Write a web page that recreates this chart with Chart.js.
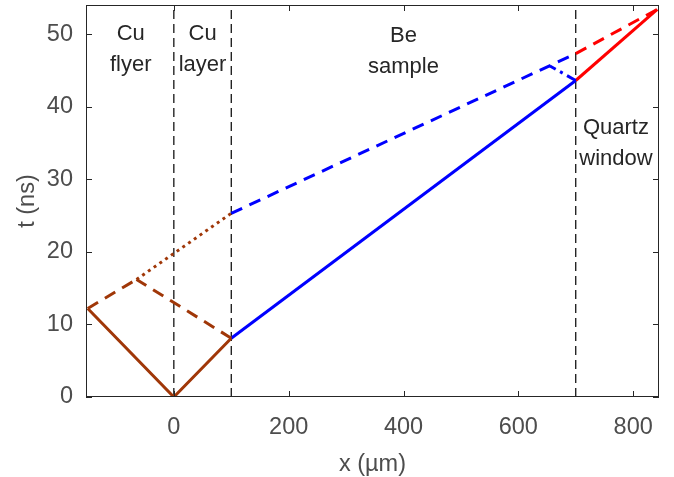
<!DOCTYPE html>
<html>
<head>
<meta charset="utf-8">
<script src="https://cdn.jsdelivr.net/npm/chart.js@4.4.1/dist/chart.umd.min.js"></script>
<style>
  html, body { margin: 0; padding: 0; background: #fff; }
  #wrap { width: 674px; height: 477px; }
</style>
</head>
<body>
<div id="wrap"><canvas id="xt" width="674" height="477"></canvas></div>
<script>
/* ================== DATA ================== */
const xTicks = [0, 200, 400, 600, 800];
const tTicks = [0, 10, 20, 30, 40, 50];
const boundaries = [0, 100, 700];

// Cu flyer / layer waves (x in um, t in ns)
const cuSolidX = [-150, 0, 100];
const cuSolidT = [12.2, 0, 8.1];
const cuDashLeftX = [-150, -65];
const cuDashLeftT = [12.2, 16.2];
const cuDashRightX = [100, -65];
const cuDashRightT = [8.1, 16.2];
const cuDotX = [-65, 100];
const cuDotT = [16.2, 25.3];

// Be sample
const beSolidX = [100, 700];
const beSolidT = [8.1, 43.6];
const beDashX = [100, 700];
const beDashT = [25.3, 47.3];
const beDashDotX = [700, 655];
const beDashDotT = [43.6, 45.6];

// Quartz window
const qzSolidX = [700, 842];
const qzSolidT = [43.6, 53.4];
const qzDashX = [700, 842];
const qzDashT = [47.3, 53.4];

const regionLabels = [
  { x: -75, t: 50.0, lines: ["Cu", "flyer"] },
  { x: 50, t: 50.0, lines: ["Cu", "layer"] },
  { x: 400, t: 49.8, lines: ["Be", "sample"] },
  { x: 770, t: 37.0, lines: ["Quartz", "window"] }
];

const X_MIN = -153, X_MAX = 845, T_MIN = 0, T_MAX = 54;

/* ================== HELPERS ================== */
const BROWN = "#a03708";
const BLUE = "#0000ff";
const RED = "#ff0000";

function pts(xs, ts) {
  return xs.map((x, i) => ({ x, y: ts[i] }));
}

function seg(xs, ts, color, dash, order = 0) {
  return {
    data: pts(xs, ts),
    borderColor: color,
    borderWidth: 3,
    borderDash: dash,
    pointRadius: 0,
    tension: 0,
    fill: false,
    order
  };
}

const datasets = boundaries.map(b => ({
  data: pts([b, b], [T_MIN, T_MAX]),
  borderColor: "#000",
  borderWidth: 1.2,
  borderDash: [9, 5],
  pointRadius: 0,
  order: 5
}));

datasets.push(
  seg(cuSolidX, cuSolidT, BROWN, []),
  seg(cuDashLeftX, cuDashLeftT, BROWN, [12, 8]),
  seg(cuDashRightX, cuDashRightT, BROWN, [12, 8]),
  seg(cuDotX, cuDotT, BROWN, [3, 4]),
  seg(beSolidX, beSolidT, BLUE, []),
  seg(beDashX, beDashT, BLUE, [12, 8]),
  seg(beDashDotX, beDashDotT, BLUE, [10, 5, 3, 5]),
  seg(qzSolidX, qzSolidT, RED, []),
  seg(qzDashX, qzDashT, RED, [12, 8])
);

/* ================== PLUGINS ================== */
const boxPlugin = {
  id: "box",
  afterDraw(chart) {
    const { ctx, chartArea: a, scales } = chart;
    ctx.save();
    ctx.strokeStyle = "#262626";
    ctx.lineWidth = 1;
    ctx.setLineDash([]);
    ctx.strokeRect(a.left + 0.5, a.top + 0.5, a.right - a.left - 1, a.bottom - a.top - 1);
    const len = 6;
    ctx.beginPath();
    xTicks.forEach(v => {
      const px = Math.round(scales.x.getPixelForValue(v)) + 0.5;
      ctx.moveTo(px, a.bottom); ctx.lineTo(px, a.bottom - len);
      ctx.moveTo(px, a.top); ctx.lineTo(px, a.top + len);
    });
    tTicks.forEach(v => {
      const py = Math.round(scales.y.getPixelForValue(v)) + 0.5;
      ctx.moveTo(a.left, py); ctx.lineTo(a.left + len, py);
      ctx.moveTo(a.right, py); ctx.lineTo(a.right - len, py);
    });
    ctx.stroke();

    // region labels
    ctx.fillStyle = "#262626";
    ctx.font = "22px 'Liberation Sans', Arial, sans-serif";
    ctx.textAlign = "center";
    ctx.textBaseline = "middle";
    regionLabels.forEach(r => {
      const px = scales.x.getPixelForValue(r.x);
      const py = scales.y.getPixelForValue(r.t);
      r.lines.forEach((s, i) => ctx.fillText(s, px, py + i * 31));
    });
    ctx.restore();
  }
};

/* ================== CHART ================== */
const font = { family: "'Liberation Sans', Arial, sans-serif", size: 23.5 };

function noPad(s) {
  s.paddingTop = 0; s.paddingBottom = 0;
  s.paddingLeft = 0; s.paddingRight = 0;
}

new Chart(document.getElementById("xt"), {
  type: "line",
  data: { datasets },
  options: {
    responsive: false,
    animation: false,
    layout: { padding: { top: 5, right: 15, left: 0, bottom: 0 } },
    plugins: {
      legend: { display: false },
      tooltip: { enabled: false }
    },
    scales: {
      x: {
        type: "linear",
        min: X_MIN,
        max: X_MAX,
        grid: { display: false, drawTicks: false, tickLength: 0 },
        border: { display: false },
        afterBuildTicks: s => { s.ticks = xTicks.map(v => ({ value: v })); },
        afterFit: s => { s.height = 80; noPad(s); },
        ticks: { color: "#4d4d4d", font, padding: 16, maxRotation: 0 },
        title: {
          display: true,
          text: "x (µm)",
          color: "#4d4d4d",
          font,
          padding: { top: 0, bottom: -2 }
        }
      },
      y: {
        type: "linear",
        min: T_MIN,
        max: T_MAX,
        grid: { display: false, drawTicks: false, tickLength: 0 },
        border: { display: false },
        afterBuildTicks: s => { s.ticks = tTicks.map(v => ({ value: v })); },
        afterFit: s => { s.width = 86; noPad(s); },
        ticks: { color: "#4d4d4d", font, padding: 13 },
        title: {
          display: true,
          text: "t (ns)",
          color: "#4d4d4d",
          font,
          padding: { top: 13, bottom: 0 }
        }
      }
    }
  },
  plugins: [boxPlugin]
});
</script>
</body>
</html>
